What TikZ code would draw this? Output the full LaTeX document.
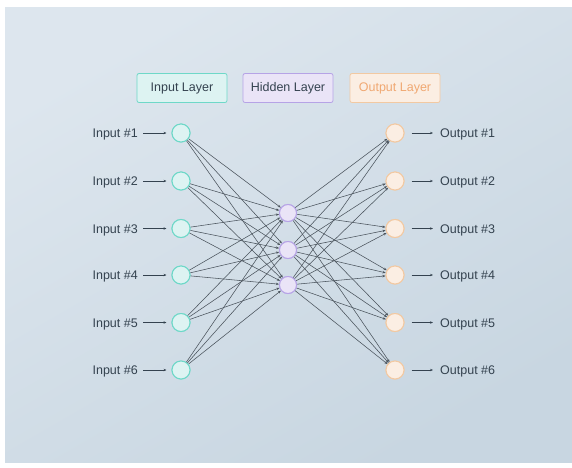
\documentclass[tikz,border=0pt]{standalone}
\usepackage{fontspec}
\setmainfont{Liberation Sans}
\usetikzlibrary{arrows.meta}
\definecolor{bgA}{HTML}{DDE6EE}
\definecolor{bgB}{HTML}{C8D6E1}
\definecolor{txt}{HTML}{34424F}
\definecolor{inFill}{HTML}{DDF3F2}
\definecolor{inLine}{HTML}{6ED8C8}
\definecolor{hidFill}{HTML}{EAE4F7}
\definecolor{hidLine}{HTML}{B6A3E6}
\definecolor{outFill}{HTML}{FBEEE3}
\definecolor{outLine}{HTML}{F2C9A2}
\definecolor{outTxt}{HTML}{F0A872}
\definecolor{edgec}{HTML}{4A535C}
\tikzset{
  lbl/.style={inner sep=0pt, text=txt, font=\fontsize{12.5}{14}\selectfont},
  hdr/.style={rounded corners=2pt, minimum width=90pt, minimum height=29pt, inner sep=0pt, line width=0.8pt, font=\fontsize{12.5}{14}\selectfont},
  neuron/.style={circle, minimum size=18pt, inner sep=0pt, line width=1pt},
  inN/.style={neuron, draw=inLine, fill=inFill},
  hidN/.style={neuron, minimum size=17pt, draw=hidLine, fill=hidFill},
  outN/.style={neuron, draw=outLine, fill=outFill},
  edgearr/.style={draw=edgec, line width=0.55pt, -{Stealth[length=3.2pt,width=2.4pt]}},
  labarr/.style={draw=txt, line width=0.6pt, -{Stealth[length=3pt,width=2.4pt]}}
}
\begin{document}
\begin{tikzpicture}[x=1pt,y=-1pt]
\useasboundingbox (0,0) rectangle (572,467);
\fill[white] (0,0) rectangle (572,467);
\shade[shading=axis, top color=bgA, bottom color=bgB, shading angle=30] (5,7) rectangle (572,462);
% headers
\node[hdr, draw=inLine, fill=inFill, text=txt] (hin) at (182,88) {Input Layer};
\node[hdr, draw=hidLine, fill=hidFill, text=txt] (hhid) at (288,88) {Hidden Layer};
\node[hdr, draw=outLine, fill=outFill, text=outTxt] (hout) at (395,88) {Output Layer};
% neurons
\foreach \k/\y in {1/133,2/181,3/228.5,4/275,5/322.5,6/370}{
  \node[inN] (i\k) at (181,\y) {};
  \node[outN] (o\k) at (395,\y) {};
  \node[lbl, anchor=base east] (li\k) at (138,\y+4.5) {Input \#\k};
  \node[lbl, anchor=base west] (lo\k) at (440,\y+4.5) {Output \#\k};
  \draw[labarr, shorten <=5pt, shorten >=5pt] (li\k.east |- i\k) -- (i\k);
  \draw[labarr, shorten <=7pt, shorten >=7pt] (o\k) -- (lo\k.west |- o\k);
}
\foreach \h/\y in {1/213,2/250,3/285}{
  \node[hidN] (h\h) at (288,\y) {};
}
\foreach \k in {1,...,6}{
  \foreach \h in {1,2,3}{
    \draw[edgearr] (i\k) -- (h\h);
    \draw[edgearr] (h\h) -- (o\k);
  }
}
% redraw neurons on top
\foreach \k/\y in {1/133,2/181,3/228.5,4/275,5/322.5,6/370}{
  \node[inN] at (181,\y) {};
  \node[outN] at (395,\y) {};
}
\foreach \h/\y in {1/213,2/250,3/285}{
  \node[hidN] at (288,\y) {};
}
\end{tikzpicture}
\end{document}
